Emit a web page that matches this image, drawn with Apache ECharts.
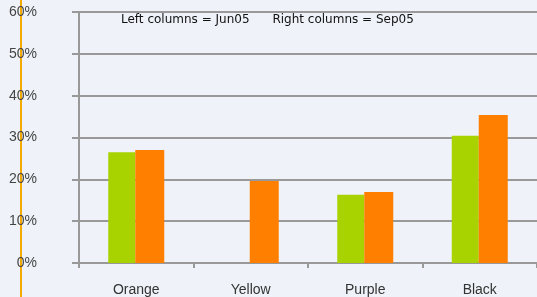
<!DOCTYPE html>
<html>
<head>
<meta charset="utf-8">
<script src="https://cdn.jsdelivr.net/npm/echarts@6/dist/echarts.min.js"></script>
<style>
    html, body {margin: 0; padding: 0; background: #eff3f9;}
    #chart {width: 537px; height: 297px;}
</style>
</head>
<body>
<div id="chart"></div>
<script>
const categories = ["Orange", "Yellow", "Purple", "Black"];
const jun05 = [26.5, null, 16.3, 30.4];
const sep05 = [27.0, 19.6, 17.0, 35.4];
const yTicks = [0, 10, 20, 30, 40, 50, 60];

const labelFont = "'Liberation Sans', Arial, sans-serif";

const chart = echarts.init(document.getElementById("chart"));

chart.setOption({
    backgroundColor: "#eff3f9",
    animation: false,
    grid: {left: 79, top: 12, width: 461, height: 251, containLabel: false},
    graphic: [
        {
            type: "line",
            z: -1,
            shape: {x1: 21, y1: 0, x2: 21, y2: 297},
            style: {stroke: "#f5a800", lineWidth: 2}
        },
        {
            type: "text",
            left: 121,
            top: 14,
            style: {
                text: "Left columns = Jun05      Right columns = Sep05",
                fill: "#111",
                font: "12px 'DejaVu Sans', Verdana, sans-serif"
            }
        }
    ],
    xAxis: {
        type: "category",
        data: categories,
        axisLine: {lineStyle: {color: "#999", width: 2}},
        axisTick: {show: true, length: 5, lineStyle: {color: "#999", width: 2}},
        axisLabel: {color: "#333", fontSize: 14, margin: 20, fontFamily: labelFont}
    },
    yAxis: {
        type: "value",
        min: yTicks[0],
        max: yTicks[yTicks.length - 1],
        interval: 10,
        axisLine: {show: true, lineStyle: {color: "#999", width: 2}},
        axisTick: {show: true, length: 7, lineStyle: {color: "#999", width: 2}},
        splitLine: {lineStyle: {color: "#999", width: 2}},
        axisLabel: {
            formatter: "{value}%",
            color: "#444",
            fontSize: 14,
            margin: 42,
            fontFamily: labelFont
        }
    },
    series: [
        {
            name: "Jun05",
            type: "bar",
            data: jun05,
            barWidth: 27,
            barGap: "0%",
            itemStyle: {color: "#a9d300"}
        },
        {
            name: "Sep05",
            type: "bar",
            data: sep05,
            barWidth: 29,
            barGap: "0%",
            itemStyle: {color: "#ff7f00"}
        }
    ]
});
</script>
</body>
</html>
